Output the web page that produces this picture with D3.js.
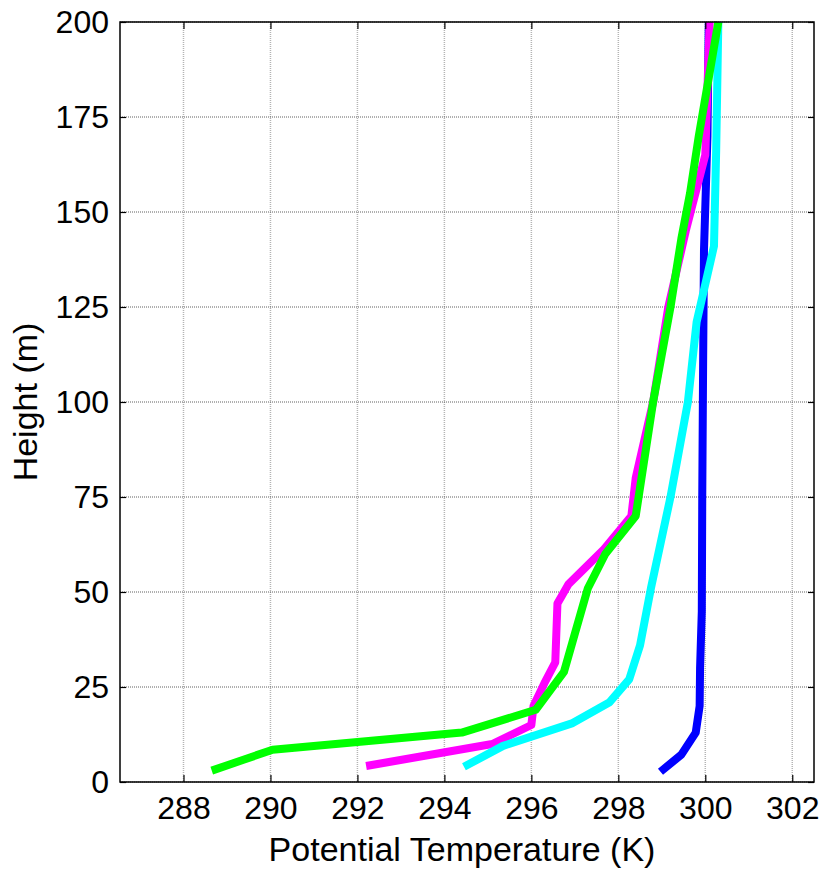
<!DOCTYPE html>
<html>
<head>
<meta charset="utf-8">
<script src="https://cdn.jsdelivr.net/npm/d3@7"></script>
<style>
  body { margin: 0; background: #fff; }
  text { font-family: Arial, "Liberation Sans", sans-serif; fill: #000; }
</style>
</head>
<body>
<div id="chart"></div>
<script>
// profiles: potential temperature (K) against height (m)
var blueTheta = [298.97, 299.45, 299.78, 299.87, 299.88, 299.92, 299.93, 299.95, 299.97, 300.05, 300.08];
var blueZ     = [2.7, 7.2, 13, 20, 30, 45, 75, 110, 140, 170, 200];

var magentaTheta = [292.2, 295.1, 296.0, 296.05, 296.3, 296.55, 296.6, 296.85, 297.65, 298.3, 298.4, 298.8, 299.15, 299.55, 300.0, 300.1];
var magentaZ     = [4.2, 10, 15, 20, 26, 31.5, 47, 52, 61, 70, 80, 100, 125, 145, 165, 200];

var cyanTheta = [294.45, 295.35, 296.95, 297.8, 298.25, 298.5, 298.65, 298.75, 299.2, 299.6, 299.8, 300.2, 300.25, 300.3];
var cyanZ     = [4, 9.5, 15.5, 21, 27, 36, 45, 51, 75, 100, 121, 141, 166, 200];

var greenTheta = [288.65, 290.05, 294.4, 296.1, 296.75, 296.95, 297.3, 297.7, 298.4, 298.8, 299.2, 299.45, 299.65, 299.85, 300.3];
var greenZ     = [3, 8.5, 13, 19, 29, 37, 51, 60, 70, 100, 125, 143, 155, 170, 200];

var xTicks = [288, 290, 292, 294, 296, 298, 300, 302];
var yTicks = [0, 25, 50, 75, 100, 125, 150, 175, 200];

var series = [
  { name: "blue",    color: "#0000ff", theta: blueTheta,    z: blueZ },
  { name: "magenta", color: "#ff00ff", theta: magentaTheta, z: magentaZ },
  { name: "cyan",    color: "#00ffff", theta: cyanTheta,    z: cyanZ },
  { name: "green",   color: "#00ff00", theta: greenTheta,   z: greenZ }
];

var W = 824, H = 870;
var margin = { top: 22, right: 10, bottom: 88, left: 120 },
    width = W - margin.left - margin.right,
    height = H - margin.top - margin.bottom;

var x = d3.scaleLinear().domain([286.54, 302.5]).range([0, width]);
var y = d3.scaleLinear().domain([0, 200]).range([height, 0]);

var svg = d3.select("#chart").append("svg")
    .attr("width", W)
    .attr("height", H)
  .append("g")
    .attr("transform", "translate(" + margin.left + "," + margin.top + ")");

// grid
svg.selectAll(".vgrid")
    .data(xTicks)
  .enter().append("line")
    .attr("class", "vgrid")
    .attr("x1", function(d) { return x(d); })
    .attr("x2", function(d) { return x(d); })
    .attr("y1", 0)
    .attr("y2", height)
    .style("stroke", "#b4b4b4")
    .style("stroke-width", 1.5)
    .style("stroke-dasharray", "1,1");

svg.selectAll(".hgrid")
    .data(yTicks)
  .enter().append("line")
    .attr("class", "hgrid")
    .attr("x1", 0)
    .attr("x2", width)
    .attr("y1", function(d) { return y(d); })
    .attr("y2", function(d) { return y(d); })
    .style("stroke", "#606060")
    .style("stroke-width", 1)
    .style("stroke-dasharray", "1,1");

// lines
var line = d3.line()
    .x(function(d) { return x(d[0]); })
    .y(function(d) { return y(d[1]); });

svg.selectAll(".profile")
    .data(series)
  .enter().append("path")
    .attr("class", "profile")
    .attr("d", function(s) { return line(d3.zip(s.theta, s.z)); })
    .style("fill", "none")
    .style("stroke", function(s) { return s.color; })
    .style("stroke-width", 8)
    .style("stroke-linejoin", "round");

// axes, ticks pointing inwards (matlab box)
function styleAxis(g) {
  g.select(".domain").remove();
  g.selectAll(".tick line").style("stroke", "#000").style("stroke-width", 1.2);
}

svg.append("g")
    .attr("transform", "translate(0," + height + ")")
    .call(d3.axisBottom(x).tickValues(xTicks).tickSizeInner(-7).tickSizeOuter(0).tickPadding(14).tickFormat(d3.format("d")))
    .call(styleAxis)
    .selectAll("text").style("font-size", "32px").attr("dy", "0.71em");

svg.append("g")
    .call(d3.axisTop(x).tickValues(xTicks).tickSizeInner(-7).tickSizeOuter(0).tickFormat(""))
    .call(styleAxis);

svg.append("g")
    .call(d3.axisLeft(y).tickValues(yTicks).tickSizeInner(-6).tickSizeOuter(0).tickPadding(11))
    .call(styleAxis)
    .selectAll("text").style("font-size", "32px");

svg.append("g")
    .attr("transform", "translate(" + width + ",0)")
    .call(d3.axisRight(y).tickValues(yTicks).tickSizeInner(-6).tickSizeOuter(0).tickFormat(""))
    .call(styleAxis);

svg.append("rect")
    .attr("width", width)
    .attr("height", height)
    .style("fill", "none")
    .style("stroke", "#000")
    .style("stroke-width", 1.5);

// labels
svg.append("text")
    .attr("x", width / 2 - 5)
    .attr("y", height + 79)
    .style("text-anchor", "middle")
    .style("font-size", "34px")
    .text("Potential Temperature (K)");

svg.append("text")
    .attr("transform", "translate(" + (37 - margin.left) + "," + (height / 2) + ")rotate(-90)")
    .style("text-anchor", "middle")
    .style("font-size", "34px")
    .text("Height (m)");
</script>
</body>
</html>
